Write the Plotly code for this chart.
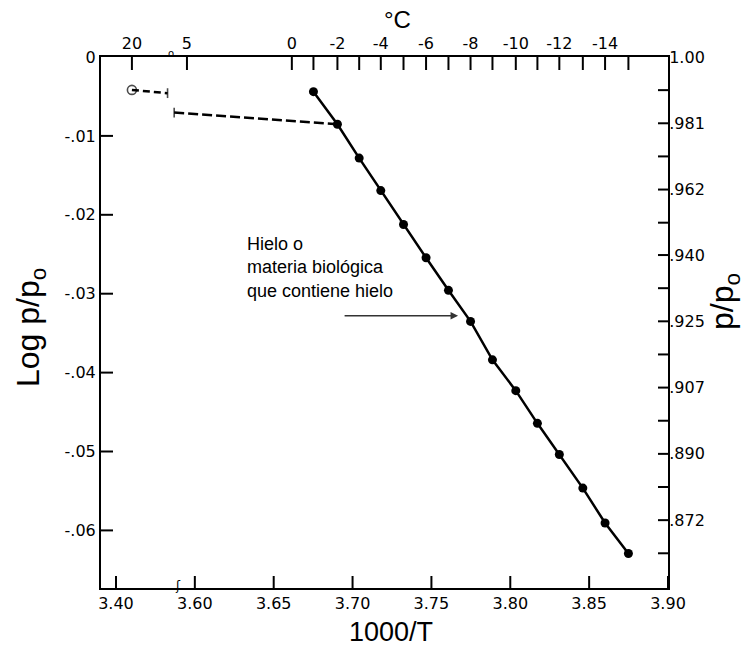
import plotly.graph_objects as go

# ---- data -------------------------------------------------------------
# Ice (or ice-containing biological material): 1000/T versus log p/po
inv_T_ice = [3.6752, 3.6904, 3.7042, 3.7179, 3.7323, 3.7466, 3.7608, 3.7748,
             3.7887, 3.8035, 3.8172, 3.8311, 3.8460, 3.8601, 3.8749]
log_ratio_ice = [-0.00439, -0.00852, -0.01281, -0.01693, -0.02123, -0.02545,
                 -0.02957, -0.03351, -0.03838, -0.04229, -0.04643, -0.05038,
                 -0.05464, -0.05906, -0.06293]

# Liquid water reference (broken across the axis gap)
inv_T_water_a = [3.4101, 3.4327]
log_ratio_water_a = [-0.00417, -0.00458]
inv_T_water_b = [3.5869, 3.6904]
log_ratio_water_b = [-0.00704, -0.00852]

# Bottom axis (1000/T)
bottom_ticks = [3.40, 3.60, 3.65, 3.70, 3.75, 3.80, 3.85, 3.90]
bottom_labels = ["3.40", "3.60", "3.65", "3.70", "3.75", "3.80", "3.85", "3.90"]

# Top axis (°C) with the matching 1000/T positions
top_temps = [20, 5, 0, -1, -2, -3, -4, -5, -6, -7, -8, -9, -10, -11, -12, -13, -14, -15]
top_inv_T = [3.4101, 3.5950, 3.6615, 3.6752, 3.6904, 3.7042, 3.7179, 3.7323, 3.7466,
             3.7608, 3.7748, 3.7887, 3.8035, 3.8172, 3.8311, 3.8460, 3.8601, 3.8749]
top_labelled = [20, 5, 0, -2, -4, -6, -8, -10, -12, -14]

# Left axis (log p/po)
left_ticks = [0, -0.01, -0.02, -0.03, -0.04, -0.05, -0.06]
left_labels = ["0", "-.01", "-.02", "-.03", "-.04", "-.05", "-.06"]

# Right axis (p/po)
right_labels = ["1.00", ".981", ".962", ".940", ".925", ".907", ".890", ".872"]
right_ticks = [0, -0.0084, -0.0168, -0.0251, -0.0335, -0.0419, -0.0503, -0.0587]
right_minor = [-0.0042, -0.0126, -0.0210, -0.0293, -0.0377, -0.0461, -0.0545, -0.0629]

# ---- broken x axis: the low 1000/T segment is shifted next to 3.60 -----
BREAK = 3.5
SHIFT = 0.15


def axis_pos(vals):
    return [v + SHIFT if v < BREAK else v for v in vals]


W, H = 754, 649
L, R, T, B = 101, 86, 57, 61
PW, PH = W - L - R, H - T - B


def px(x):
    return (x - L) / PW


def py(y):
    return 1 - (y - T) / PH


INK = "black"
TICK_FONT = dict(family="DejaVu Sans", size=16, color=INK)
TITLE_FONT = "Liberation Sans"

x_range = [3.5405, 3.90]
y_range = [-0.0673, 0]
X_PER_PX = (x_range[1] - x_range[0]) / PW
Y_PER_PX = (y_range[1] - y_range[0]) / PH

fig = go.Figure()

fig.add_trace(go.Scatter(
    x=axis_pos(inv_T_ice), y=log_ratio_ice, mode="lines+markers",
    line=dict(color=INK, width=2.5),
    marker=dict(color=INK, size=9),
    showlegend=False, hoverinfo="skip"))

fig.add_trace(go.Scatter(
    x=axis_pos(inv_T_water_a), y=log_ratio_water_a, mode="lines+markers",
    line=dict(color=INK, width=2.5, dash="7px,4px"),
    marker=dict(color=INK, size=[9, 7], symbol=["circle-open", "line-ns"],
                line=dict(color=INK, width=1.6)),
    showlegend=False, hoverinfo="skip"))

fig.add_trace(go.Scatter(
    x=axis_pos(inv_T_water_b), y=log_ratio_water_b, mode="lines+markers",
    line=dict(color=INK, width=2.5, dash="10px,4px"),
    marker=dict(color=INK, size=[7, 0], symbol=["line-ns", "circle"],
                line=dict(color=INK, width=1.6)),
    showlegend=False, hoverinfo="skip"))


# inside tick marks on the frame, drawn as line markers centred half a
# tick length inside each edge (a line-ns/ew marker is 1.4 x its size long)
def tick_marks(xs, ys, symbol, length):
    fig.add_trace(go.Scatter(
        x=xs, y=ys, mode="markers", cliponaxis=False,
        marker=dict(symbol=symbol, size=length / 1.4, color=INK,
                    line=dict(color=INK, width=2)),
        showlegend=False, hoverinfo="skip"))


def x_ticks(values, length, top=False):
    half = length / 2 * Y_PER_PX
    y = y_range[1] - half if top else y_range[0] + half
    tick_marks(values, [y] * len(values), "line-ns", length)


def y_ticks(values, length, right=False):
    half = length / 2 * X_PER_PX
    x = x_range[1] - half if right else x_range[0] + half
    tick_marks([x] * len(values), values, "line-ew", length)


x_ticks(axis_pos(bottom_ticks), 12)
x_ticks(axis_pos(top_inv_T), 13, top=True)
y_ticks(left_ticks[1:], 12)
y_ticks(right_ticks[1:] + right_minor, 10, right=True)

# invisible trace so the top/right axes are drawn
fig.add_trace(go.Scatter(x=[None], y=[None], xaxis="x2", yaxis="y2",
                         showlegend=False, hoverinfo="skip"))

axis_common = dict(showline=True, linecolor=INK, linewidth=2, ticks="",
                   showgrid=False, zeroline=False, tickfont=TICK_FONT)

fig.update_layout(
    width=W, height=H,
    margin=dict(l=L, r=R, t=T, b=B, pad=0),
    paper_bgcolor="white", plot_bgcolor="white",
    xaxis=dict(range=x_range, tickmode="array", tickvals=axis_pos(bottom_ticks),
               ticktext=bottom_labels, **axis_common),
    xaxis2=dict(range=x_range, overlaying="x", side="top", tickmode="array",
                tickvals=axis_pos(top_inv_T),
                ticktext=[str(t) if t in top_labelled else "" for t in top_temps],
                **axis_common),
    yaxis=dict(range=y_range, tickmode="array", tickvals=left_ticks,
               ticktext=left_labels, **axis_common),
    yaxis2=dict(range=y_range, overlaying="y", side="right", tickmode="array",
                tickvals=right_ticks, ticktext=right_labels,
                ticklabelstandoff=-4, **axis_common),
)

# annotation text and arrow
fig.add_annotation(
    x=3.6319, y=-0.0222, xref="x", yref="y", xanchor="left", yanchor="top",
    text="Hielo o<br>materia biológica<br>que contiene hielo", showarrow=False,
    align="left", font=dict(family=TITLE_FONT, size=18, color=INK))
fig.add_annotation(
    x=3.7669, y=-0.0328, ax=3.6940, ay=-0.0328, xref="x", yref="y",
    axref="x", ayref="y", text="", showarrow=True, arrowhead=2,
    arrowsize=1, arrowwidth=1.5, arrowcolor="#333", standoff=0)


def label(text, x, y, size, family=TITLE_FONT, angle=0):
    fig.add_annotation(x=px(x), y=py(y), xref="paper", yref="paper",
                       xanchor="center", yanchor="middle", text=text,
                       textangle=angle, showarrow=False,
                       font=dict(family=family, size=size, color=INK))


# axis titles
label("Log p/p<sub>o</sub>", 30, 328, 32, angle=-90)
label("p/p<sub>o</sub>", 724, 302, 32, angle=-90)
label("1000/T", 391, 632, 27)
label("°C", 397, 20, 24)

# axis break marks
label("o", 171, 54, 10, family="DejaVu Sans")
label("ʃ", 178, 586, 12, family="DejaVu Sans")

fig.write_html("out.html")
